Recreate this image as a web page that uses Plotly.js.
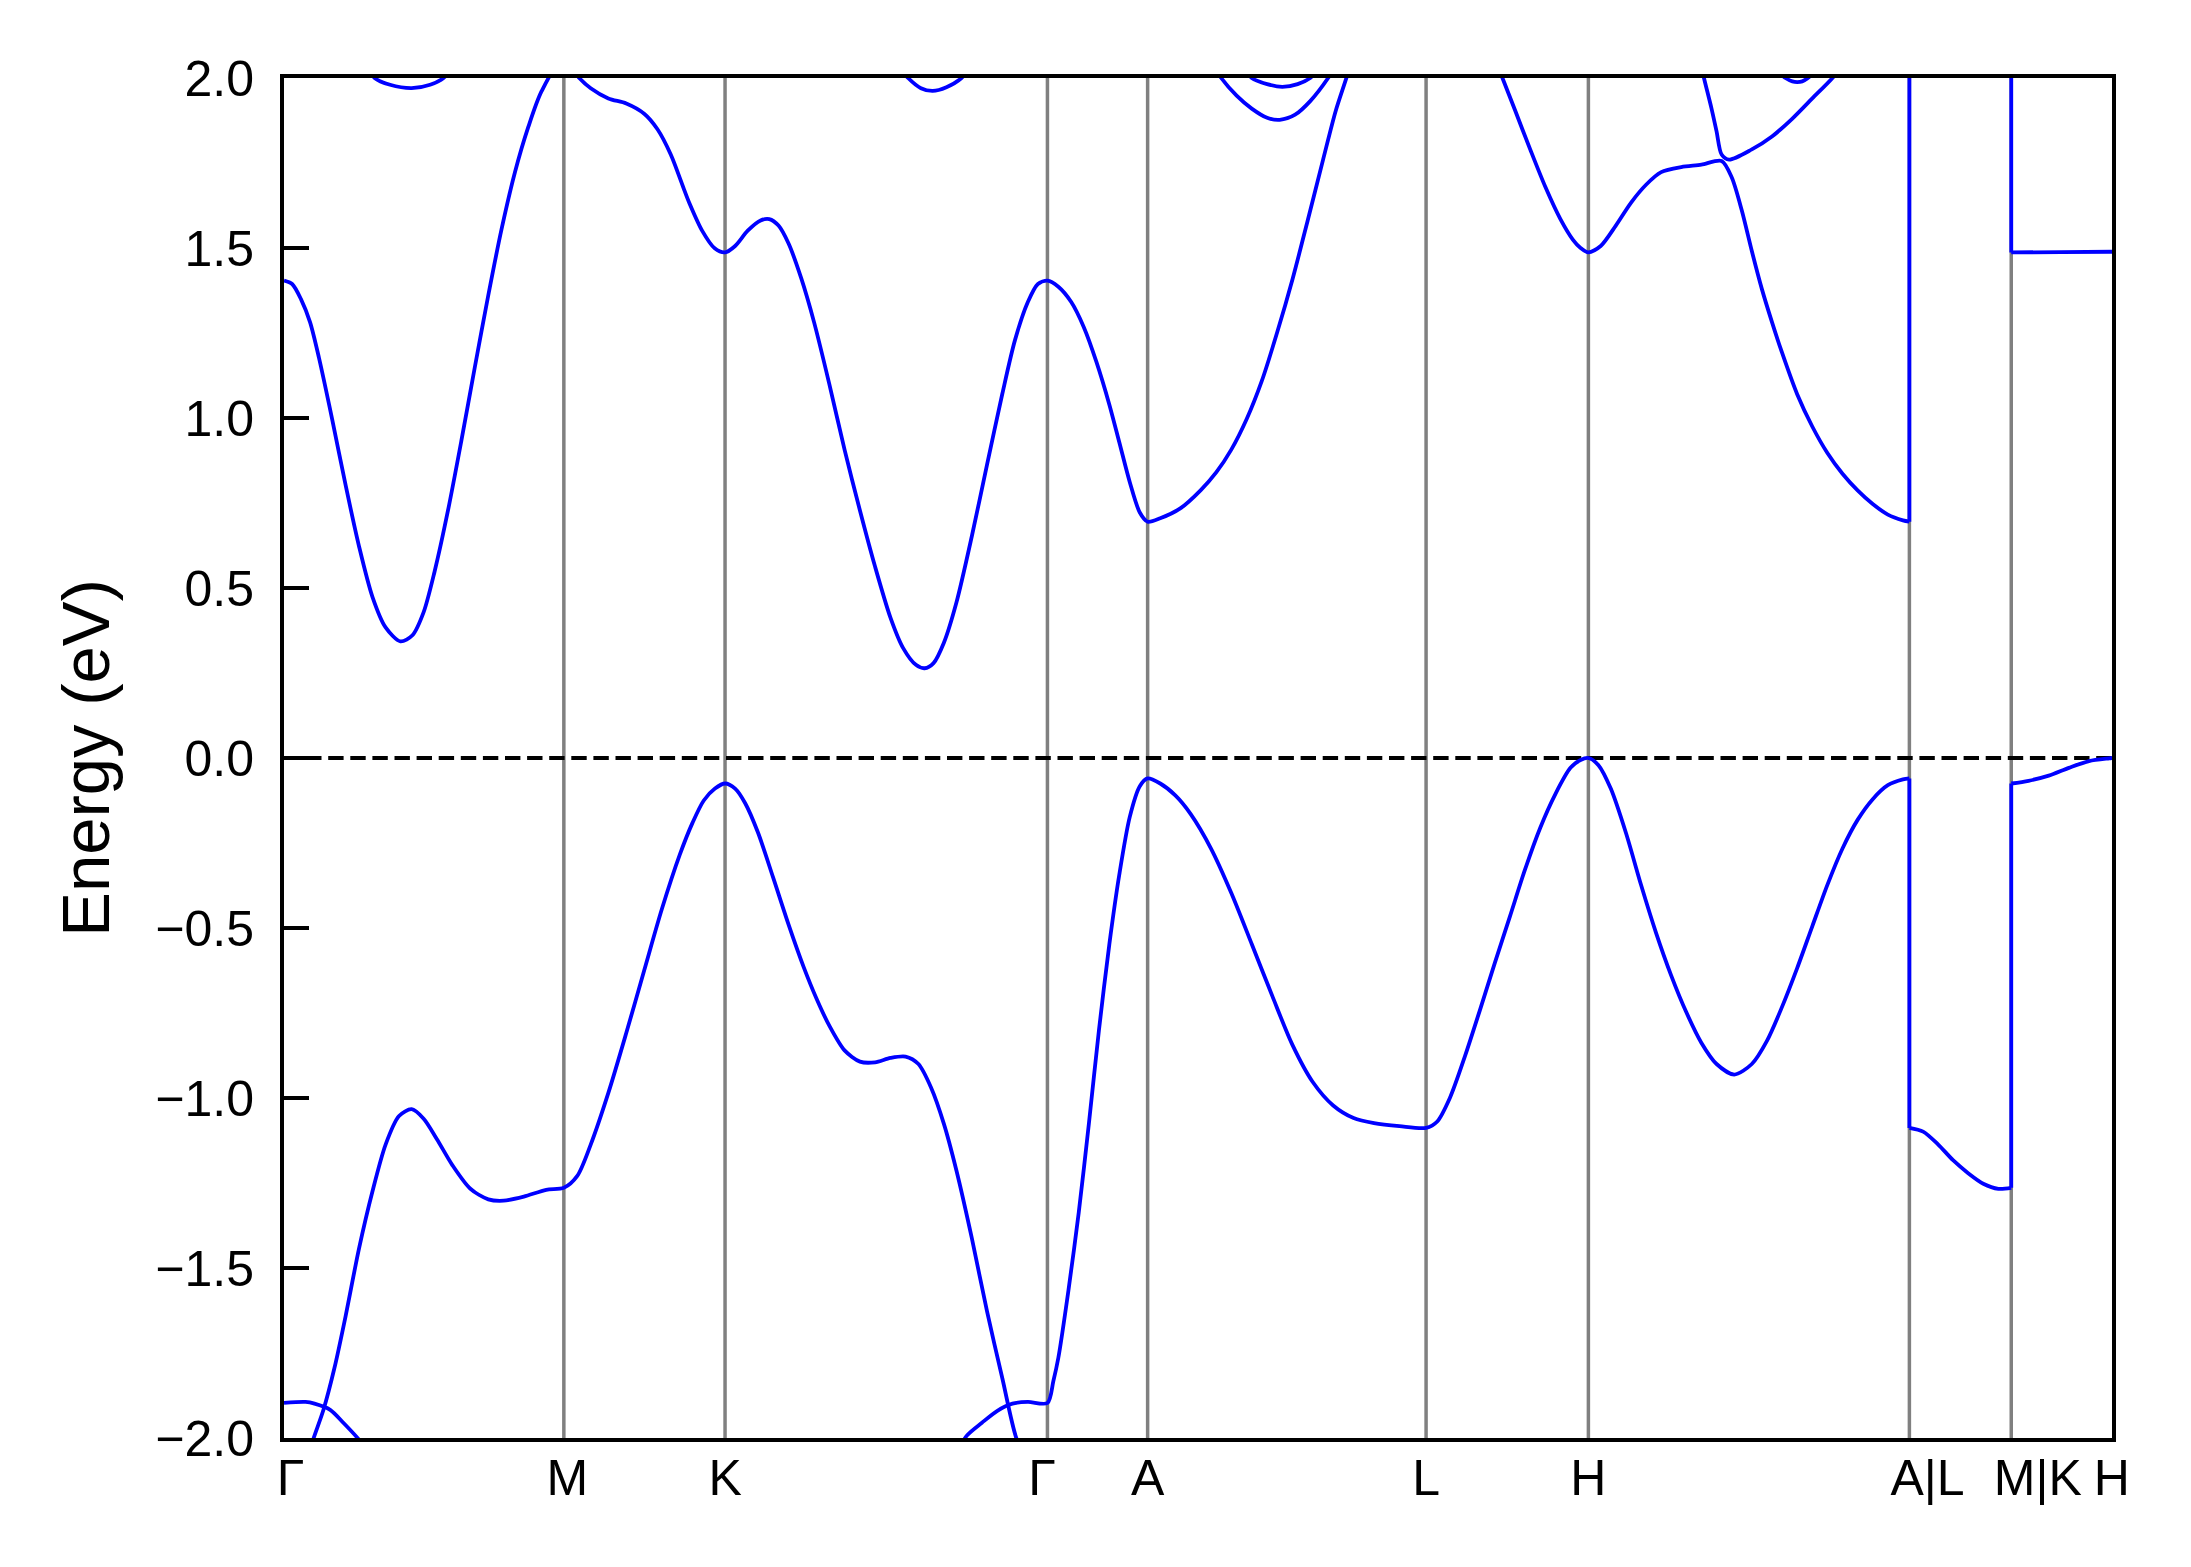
<!DOCTYPE html>
<html><head><meta charset="utf-8">
<script src="https://cdn.plot.ly/plotly-3.0.1.min.js"></script>
<style>html,body{margin:0;padding:0;background:#fff;} #chart{width:2191px;height:1567px;}</style>
</head><body><div id="chart"></div>
<script>
// High-symmetry path (k distance, arbitrary units)
const kTicks = [0, 1.000, 1.576, 2.728, 3.086, 4.081, 4.661, 5.808, 6.172, 6.532];
const kLabels = ['Γ', 'M', 'K', 'Γ', 'A', 'L', 'H', 'A|L', 'M|K', 'H'];
const kLabelPos = [0.023, 1.012, 1.576, 2.709, 3.086, 4.081, 4.661, 5.873, 6.267, 6.531];

const yTickVals = [-2, -1.5, -1, -0.5, 0, 0.5, 1, 1.5, 2];
const yTickLabels = ['−2.0', '−1.5', '−1.0', '−0.5', '0.0', '0.5', '1.0', '1.5', '2.0'];

// Lowest conduction band along the whole path (values > 2 eV lie off-scale)
const cb1K = [0, 0.029, 0.061, 0.093, 0.125, 0.172, 0.220, 0.268, 0.316, 0.363, 0.416, 0.459, 0.499, 0.538, 0.586, 0.634, 0.682, 0.730, 0.777, 0.825, 0.873, 0.921, 1.000,
  1.055, 1.096, 1.159, 1.223, 1.287, 1.334, 1.382, 1.430, 1.448, 1.494, 1.539, 1.576,
  1.612, 1.657, 1.703, 1.734, 1.767, 1.803, 1.849, 1.894, 1.948, 2.003, 2.058, 2.112, 2.167, 2.212, 2.258, 2.289, 2.321, 2.358, 2.403, 2.458, 2.512, 2.567, 2.612, 2.658, 2.694, 2.728,
  2.767, 2.813, 2.858, 2.903, 2.949, 2.985, 3.022, 3.058, 3.086,
  3.131, 3.204, 3.276, 3.331, 3.385, 3.440, 3.494, 3.549, 3.604, 3.658, 3.713, 3.758, 3.800, 3.850, 4.081,
  4.300, 4.354, 4.399, 4.453, 4.507, 4.561, 4.606, 4.633, 4.661,
  4.705, 4.759, 4.813, 4.867, 4.921, 4.993, 5.065, 5.137, 5.173, 5.209, 5.245, 5.281, 5.317, 5.353, 5.407, 5.461, 5.515, 5.569, 5.623, 5.677, 5.731, 5.785, 5.808,
  5.808, 6.172, 6.172, 6.350, 6.532];
const cb1E = [1.404, 1.394, 1.349, 1.282, 1.177, 0.997, 0.803, 0.623, 0.474, 0.384, 0.343, 0.361, 0.429, 0.548, 0.728, 0.934, 1.150, 1.361, 1.554, 1.722, 1.856, 1.962, 2.060,
  2.000, 1.970, 1.940, 1.925, 1.895, 1.850, 1.775, 1.671, 1.633, 1.551, 1.499, 1.487,
  1.506, 1.551, 1.581, 1.585, 1.566, 1.513, 1.409, 1.282, 1.102, 0.907, 0.728, 0.563, 0.413, 0.324, 0.274, 0.264, 0.279, 0.339, 0.458, 0.653, 0.862, 1.072, 1.229, 1.341, 1.394, 1.404,
  1.386, 1.341, 1.267, 1.165, 1.040, 0.928, 0.812, 0.722, 0.695,
  0.705, 0.735, 0.788, 0.840, 0.907, 0.997, 1.109, 1.252, 1.409, 1.581, 1.760, 1.903, 2.010, 2.150, 2.600,
  2.120, 2.000, 1.905, 1.790, 1.680, 1.585, 1.524, 1.500, 1.487,
  1.506, 1.566, 1.633, 1.686, 1.723, 1.738, 1.745, 1.756, 1.708, 1.611, 1.491, 1.379, 1.282, 1.192, 1.070, 0.975, 0.897, 0.836, 0.787, 0.747, 0.716, 0.699, 0.695,
  2.600, 2.060, 1.487, 1.488, 1.489];

// Second conduction band pieces that dip below 2 eV
const cb2aK = [0.300, 0.324, 0.379, 0.456, 0.522, 0.570, 0.600];
const cb2aE = [2.030, 2.000, 1.980, 1.970, 1.980, 2.000, 2.030];
const cb2bK = [2.200, 2.230, 2.276, 2.318, 2.367, 2.421, 2.450];
const cb2bE = [2.030, 2.000, 1.970, 1.962, 1.973, 2.000, 2.030];
const cb2cK = [3.320, 3.349, 3.404, 3.458, 3.513, 3.558, 3.613, 3.667, 3.731, 3.760];
const cb2cE = [2.040, 2.000, 1.948, 1.910, 1.883, 1.877, 1.892, 1.932, 2.000, 2.040];
const cb2dK = [5.060, 5.074, 5.101, 5.119, 5.137, 5.164, 5.245, 5.317, 5.389, 5.461, 5.533, 5.560];
const cb2dE = [2.050, 2.000, 1.910, 1.843, 1.775, 1.760, 1.790, 1.828, 1.880, 1.940, 2.000, 2.030];
// Third conduction band pieces
const cb3aK = [3.440, 3.458, 3.513, 3.567, 3.622, 3.667, 3.690];
const cb3aE = [2.020, 2.000, 1.982, 1.974, 1.982, 2.000, 2.020];
const cb3bK = [5.350, 5.365, 5.390, 5.407, 5.425, 5.445, 5.460];
const cb3bE = [2.010, 2.000, 1.990, 1.988, 1.990, 2.000, 2.010];

// Valence band branch Γ–M–K–Γ
const vb1K = [0, 0.050, 0.106, 0.141, 0.180, 0.220, 0.268, 0.316, 0.363, 0.411, 0.456, 0.499, 0.547, 0.602, 0.666, 0.730, 0.785, 0.857, 0.937, 1.000,
  1.048, 1.096, 1.159, 1.223, 1.287, 1.350, 1.414, 1.460, 1.500, 1.540, 1.576,
  1.612, 1.648, 1.694, 1.748, 1.803, 1.857, 1.903, 1.949, 2.003, 2.058, 2.112, 2.167, 2.221, 2.267, 2.312, 2.358, 2.403, 2.458, 2.512, 2.567, 2.618, 2.660];
const vb1E = [-2.240, -2.140, -2.000, -1.917, -1.795, -1.642, -1.443, -1.275, -1.137, -1.053, -1.033, -1.061, -1.122, -1.198, -1.267, -1.298, -1.302, -1.290, -1.270, -1.264,
  -1.229, -1.137, -0.985, -0.809, -0.625, -0.445, -0.285, -0.190, -0.125, -0.090, -0.075,
  -0.090, -0.133, -0.220, -0.352, -0.490, -0.615, -0.708, -0.788, -0.860, -0.893, -0.895, -0.882, -0.878, -0.900, -0.969, -1.076, -1.214, -1.413, -1.627, -1.825, -2.003, -2.070];

// Flat valence band near the first Γ
const vb3K = [0, 0.077, 0.109, 0.165, 0.212, 0.265, 0.300];
const vb3E = [-1.897, -1.894, -1.899, -1.917, -1.955, -2.002, -2.040];

// Top valence band from K–Γ through Γ–A–L–H–A|L–M|K–H
const vb2K = [2.400, 2.440, 2.494, 2.549, 2.603, 2.658, 2.728,
  2.749, 2.767, 2.803, 2.840, 2.876, 2.912, 2.949, 2.985, 3.022, 3.058, 3.086,
  3.131, 3.185, 3.240, 3.313, 3.385, 3.458, 3.531, 3.603, 3.676, 3.749, 3.822, 3.895, 3.986, 4.081,
  4.121, 4.166, 4.220, 4.274, 4.327, 4.381, 4.435, 4.489, 4.543, 4.597, 4.633, 4.661,
  4.697, 4.741, 4.795, 4.849, 4.903, 4.957, 5.011, 5.065, 5.119, 5.182, 5.245, 5.299, 5.353, 5.407, 5.461, 5.515, 5.569, 5.623, 5.677, 5.731, 5.785, 5.808,
  5.808, 5.857, 5.911, 5.964, 6.018, 6.072, 6.126, 6.172,
  6.172, 6.234, 6.306, 6.378, 6.450, 6.522, 6.532];
const vb2E = [-2.050, -1.993, -1.955, -1.920, -1.899, -1.894, -1.897,
  -1.833, -1.764, -1.566, -1.336, -1.076, -0.801, -0.549, -0.342, -0.174, -0.083, -0.060,
  -0.075, -0.110, -0.165, -0.267, -0.397, -0.547, -0.699, -0.843, -0.953, -1.022, -1.059, -1.074, -1.083, -1.088,
  -1.069, -1.000, -0.877, -0.740, -0.602, -0.465, -0.327, -0.205, -0.106, -0.029, -0.006, 0.000,
  -0.021, -0.090, -0.220, -0.373, -0.515, -0.640, -0.748, -0.838, -0.900, -0.931, -0.900, -0.832, -0.732, -0.618, -0.495, -0.373, -0.266, -0.182, -0.121, -0.080, -0.063, -0.060,
  -1.088, -1.099, -1.137, -1.183, -1.221, -1.252, -1.267, -1.264,
  -0.075, -0.067, -0.052, -0.029, -0.009, -0.001, 0.000];

const bands = [
  [cb1K, cb1E], [cb2aK, cb2aE], [cb2bK, cb2bE], [cb2cK, cb2cE], [cb2dK, cb2dE],
  [cb3aK, cb3aE], [cb3bK, cb3bE], [vb1K, vb1E], [vb3K, vb3E], [vb2K, vb2E]
];

const BLUE = '#0000ff';
const FONT = 'Liberation Sans, Arial, Helvetica, sans-serif';

// split each band into smooth pieces; discontinuities (same k twice) become straight vertical jumps
const traces = [];
function addTrace(xs, ys, shape) {
  traces.push({type: 'scatter', mode: 'lines', x: xs, y: ys,
    line: {color: BLUE, width: 3.8, shape: shape, smoothing: 0.8},
    hoverinfo: 'skip', showlegend: false});
}
bands.forEach(([ks, es]) => {
  let px = [ks[0]], py = [es[0]];
  for (let i = 1; i < ks.length; i++) {
    if (ks[i] === ks[i - 1]) {
      addTrace(px, py, 'spline');
      addTrace([ks[i - 1], ks[i]], [es[i - 1], es[i]], 'linear');
      px = [ks[i]]; py = [es[i]];
    } else {
      px.push(ks[i]); py.push(es[i]);
    }
  }
  addTrace(px, py, 'spline');
});

const shapes = kTicks.slice(1, -1).map(k => ({
  type: 'line', xref: 'x', yref: 'paper', x0: k, x1: k, y0: 0, y1: 1,
  line: {color: '#808080', width: 3.5}, layer: 'below'
}));
shapes.push({type: 'line', xref: 'paper', yref: 'y', x0: 0, x1: 1, y0: 0, y1: 0,
  line: {color: '#000000', width: 4, dash: '15.4px,6.7px'}, layer: 'below'});

const layout = {
  width: 2191, height: 1567,
  margin: {l: 284, r: 79, t: 78, b: 129, pad: 0},
  paper_bgcolor: '#ffffff', plot_bgcolor: '#ffffff',
  font: {family: FONT, color: '#000000', size: 50},
  showlegend: false,
  xaxis: {
    range: [kTicks[0], kTicks[kTicks.length - 1]],
    tickmode: 'array', tickvals: kLabelPos, ticktext: kLabels,
    ticks: '', showgrid: false, zeroline: false,
    showline: true, mirror: true, linecolor: '#000000', linewidth: 4,
    tickfont: {family: FONT, size: 50, color: '#000000'},
    ticklabelstandoff: -7
  },
  yaxis: {
    range: [-2, 2],
    tickmode: 'array', tickvals: yTickVals, ticktext: yTickLabels,
    ticks: 'inside', ticklen: 25, tickwidth: 4, tickcolor: '#000000',
    showgrid: false, zeroline: false,
    showline: true, mirror: true, linecolor: '#000000', linewidth: 4,
    tickfont: {family: FONT, size: 50, color: '#000000'},
    ticklabelstandoff: 16,
    title: {text: 'Energy (eV)', font: {family: FONT, size: 67, color: '#000000'}, standoff: 25}
  },
  shapes: shapes
};

Plotly.newPlot('chart', traces, layout, {displayModeBar: false, staticPlot: true});
</script></body></html>
